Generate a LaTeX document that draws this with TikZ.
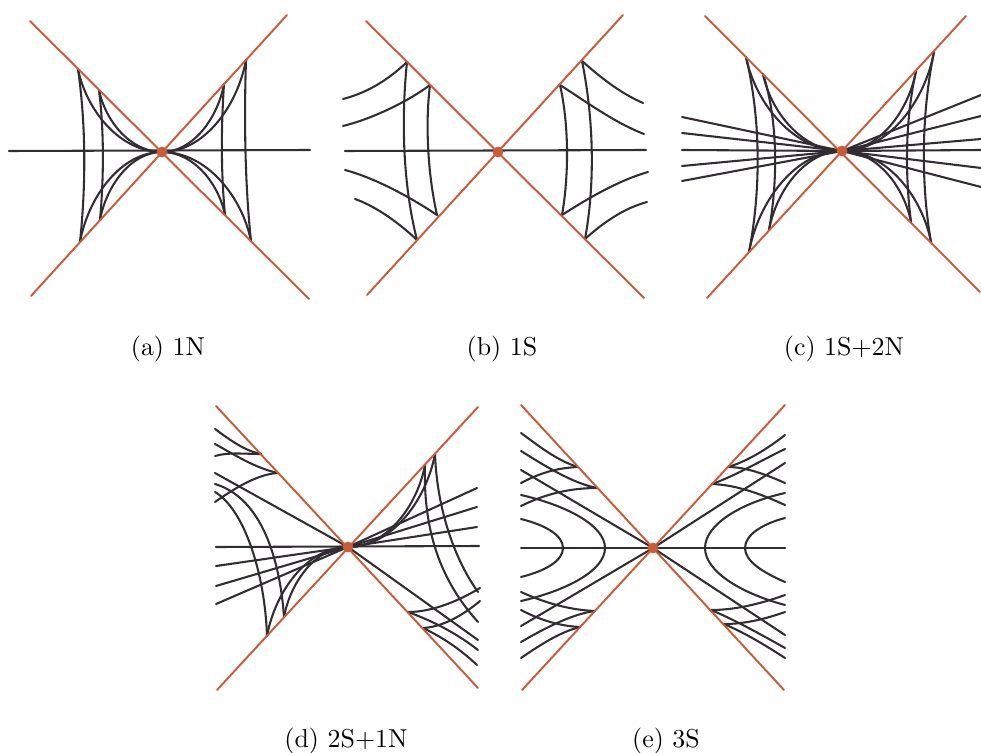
\documentclass[tikz,border=0pt]{standalone}
\usetikzlibrary{calc}
\definecolor{conecol}{RGB}{200,92,56}
\definecolor{trajcol}{RGB}{50,45,50}
% curve from a point on the cone into the saddle point
\newcommand{\tocentre}[2]{%
  \draw[traj] let \p1=(#1), \p2=(#2) in
    (\p1) .. controls ({0.9*\x1+0.1*\x2},{0.5*\y1+0.5*\y2})
      and ({0.5*\x2+0.5*\x1},\y2) .. (\p2);}
\begin{document}
\begin{tikzpicture}[x=0.386pt, y=-0.386pt, line join=round, line cap=round,
	traj/.style={trajcol, line width=0.8pt},
	cone/.style={conecol, line width=0.75pt},
	saddle/.style={circle, fill=conecol, inner sep=0pt, minimum size=4.2pt}]
	\useasboundingbox (0,0) rectangle (981,753);
	\path
	(162,152)coordinate(Oa)
	(498,152)coordinate(Ob)
	(842,151)coordinate(Oc)
	(348,547)coordinate(Od)
	(653,548)coordinate(Oe)
	;
	% (a) 1N
	\draw[traj] (9,151) -- (310,150);
	\draw[traj] (78,69) .. controls (86,125) and (86,185) .. (80,242);
	\draw[traj] (99,90) .. controls (104,130) and (104,176) .. (100,220);
	\draw[traj] (224,84) .. controls (221,130) and (221,172) .. (225,215);
	\draw[traj] (246,60) .. controls (244,120) and (245,185) .. (251,241);
	\foreach \q in {{78,69},{80,242},{99,90},{100,220},{224,84},{225,215},{246,60},{251,241}}{\tocentre{\q}{Oa}}
	\draw[cone] (30,21) -- (309,299);
	\draw[cone] (287,15) -- (31,296);
	\node[saddle] (sa) at (Oa) {};
	\node (capa) at (168,349) {(a) 1N};
	% (b) 1S
	\draw[traj] (345,151) -- (646,150);
	\draw[traj] (407,62) .. controls (401,120) and (403,185) .. (417,240);
	\draw[traj] (430,85) .. controls (425,125) and (428,175) .. (437,215);
	\draw[traj] (560,85) .. controls (569,125) and (569,175) .. (562,215);
	\draw[traj] (582,61) .. controls (594,120) and (595,185) .. (585,239);
	\draw[traj] (343,99) .. controls (370,92) and (390,78) .. (407,62);
	\draw[traj] (343,126) .. controls (375,118) and (410,100) .. (430,85);
	\draw[traj] (345,170) .. controls (375,178) and (410,197) .. (437,215);
	\draw[traj] (355,199) .. controls (375,206) and (398,222) .. (417,240);
	\draw[traj] (582,61) .. controls (600,77) and (620,93) .. (643,103);
	\draw[traj] (560,85) .. controls (585,101) and (615,123) .. (644,134);
	\draw[traj] (562,215) .. controls (590,197) and (620,180) .. (648,172);
	\draw[traj] (585,239) .. controls (605,221) and (625,208) .. (647,202);
	\draw[cone] (366,21) -- (644,298);
	\draw[cone] (623,15) -- (367,295);
	\node[saddle] (sb) at (Ob) {};
	\node (capb) at (502,349) {(b) 1S};
	% (c) 1S+2N
	\foreach \y in {117,133,150,166,181}{\draw[traj] (Oc) -- (682,\y);}
	\foreach \y in {95,116,139,150,168,187}{\draw[traj] (Oc) -- (981,\y);}
	\draw[traj] (746,57) .. controls (761,120) and (761,190) .. (749,252);
	\draw[traj] (763,74) .. controls (778,120) and (778,180) .. (769,230);
	\draw[traj] (916,71) .. controls (905,120) and (905,175) .. (911,222);
	\draw[traj] (934,52) .. controls (921,115) and (921,185) .. (931,242);
	\foreach \q in {{746,57},{749,252},{763,74},{769,230},{916,71},{911,222},{934,52},{931,242}}{\tocentre{\q}{Oc}}
	\draw[cone] (705,16) -- (980,292);
	\draw[cone] (966,16) -- (707,298);
	\node[saddle] (sc) at (Oc) {};
	\node (capc) at (844,349) {(c) 1S+2N};
	% (d) 2S+1N
	\draw[traj] (216,547) -- (479,546);
	\foreach \y in {566,586,604}{\draw[traj] (Od) -- (216,\y);}
	\foreach \y in {488,507,527}{\draw[traj] (Od) -- (477,\y);}
	\draw[traj] (215,473) -- (Od) -- (478,640);
	\draw[traj] (215,429) .. controls (230,440) and (245,451) .. (261,454);
	\draw[traj] (215,444) .. controls (235,455) and (255,468) .. (278,473);
	\draw[traj] (215,456) .. controls (228,452) and (245,454) .. (261,454);
	\draw[traj] (215,502) .. controls (235,488) and (258,474) .. (278,473);
	\draw[traj] (215,484) .. controls (262,498) and (280,560) .. (284,617);
	\draw[traj] (215,492) .. controls (245,510) and (265,575) .. (267,636);
	\draw[traj] (425,465) .. controls (423,530) and (440,580) .. (478,622);
	\draw[traj] (435,454) .. controls (437,510) and (455,560) .. (478,592);
	\foreach \q in {{284,617},{267,636},{425,465},{435,454}}{\tocentre{\q}{Od}}
	\draw[traj] (408,612) .. controls (430,612) and (455,603) .. (480,588);
	\draw[traj] (423,628) .. controls (442,627) and (462,616) .. (480,601);
	\draw[traj] (408,612) .. controls (430,620) and (455,632) .. (478,650);
	\draw[traj] (423,628) .. controls (442,637) and (460,649) .. (477,665);
	\draw[cone] (216,406) -- (478,688);
	\draw[cone] (478,407) -- (217,690);
	\node[saddle] (sd) at (Od) {};
	\node (capd) at (346,741) {(d) 2S+1N};
	% (e) 3S
	\draw[traj] (521,548) -- (785,548);
	\draw[traj] (521,470) -- (Oe) -- (785,463);
	\draw[traj] (521,626) -- (Oe) -- (785,635);
	\draw[traj] (521,519) .. controls (545,525) and (563,535) .. (563,548) .. controls (563,561) and (545,571) .. (521,577);
	\draw[traj] (521,495) .. controls (565,505) and (605,525) .. (605,548) .. controls (605,571) and (565,591) .. (521,601);
	\draw[traj] (785,493) .. controls (740,503) and (705,525) .. (705,548) .. controls (705,571) and (740,593) .. (785,605);
	\draw[traj] (785,518) .. controls (762,524) and (745,535) .. (745,548) .. controls (745,561) and (762,572) .. (785,582);
	\draw[traj] (521,433) .. controls (540,447) and (558,461) .. (578,467);
	\draw[traj] (521,451) .. controls (545,466) and (572,483) .. (597,488);
	\draw[traj] (521,483) .. controls (538,474) and (555,468) .. (578,467);
	\draw[traj] (521,506) .. controls (545,494) and (570,488) .. (597,488);
	\draw[traj] (521,592) .. controls (545,603) and (570,610) .. (595,611);
	\draw[traj] (521,610) .. controls (538,619) and (558,626) .. (580,627);
	\draw[traj] (521,642) .. controls (545,628) and (572,614) .. (595,611);
	\draw[traj] (521,658) .. controls (540,645) and (560,632) .. (580,627);
	\draw[traj] (728,467) .. controls (748,461) and (767,449) .. (785,435);
	\draw[traj] (712,484) .. controls (735,476) and (762,460) .. (785,449);
	\draw[traj] (728,467) .. controls (745,467) and (765,474) .. (785,483);
	\draw[traj] (712,484) .. controls (738,485) and (763,495) .. (785,505);
	\draw[traj] (711,610) .. controls (735,610) and (760,604) .. (785,595);
	\draw[traj] (724,624) .. controls (745,624) and (765,619) .. (785,612);
	\draw[traj] (711,610) .. controls (735,620) and (760,634) .. (785,648);
	\draw[traj] (724,624) .. controls (745,633) and (765,645) .. (785,658);
	\draw[cone] (521,405) -- (784,690);
	\draw[cone] (785,405) -- (522,690);
	\node[saddle] (se) at (Oe) {};
	\node (cape) at (666,741) {(e) 3S};
\end{tikzpicture}
\end{document}
